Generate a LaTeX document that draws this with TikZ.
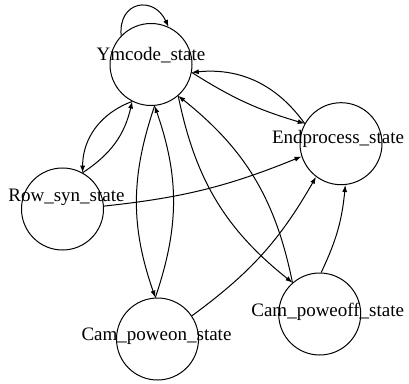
\documentclass[tikz,border=0pt]{standalone}
\usepackage{fontspec}
\setmainfont{Liberation Serif}
\usetikzlibrary{arrows.meta}

\begin{document}
\begin{tikzpicture}[x=1pt, y=1pt,
    every node/.style={font=\fontsize{19}{22}\selectfont},
    circ/.style={circle, draw, line width=1pt, minimum size=82pt, inner sep=0pt},
    arrow/.style={-{Latex[length=7pt,width=5pt]}, line width=1pt}]

  \useasboundingbox (0,0) rectangle (409,383);

  \node[circ, label={[yshift=9pt]center:Ymcode\_state}] (ym) at (151,318.5) {};
  \node[circ, label={[xshift=-3pt, yshift=5pt]center:Endprocess\_state}] (end) at (341,239.3) {};
  \node[circ, label={[xshift=4pt, yshift=12pt]center:Row\_syn\_state}] (row) at (62.5,174) {};
  \node[circ, label={[xshift=-1pt, yshift=3pt]center:Cam\_poweon\_state}] (on) at (157.5,44) {};
  \node[circ, label={[xshift=8pt, yshift=2pt]center:Cam\_poweoff\_state}] (off) at (319.7,69) {};

  \draw[arrow] (ym.136) .. controls +(95:35) and +(115:35) .. (ym.65);
  \draw[arrow] (ym.-11) to[bend right=8] (end.151);
  \draw[arrow] (end.151) to[bend right=30] (ym.-11);
  \draw[arrow] (ym.-49) to[bend right=20] (off.131);
  \draw[arrow] (off.131) to[bend right=20] (ym.-49);
  \draw[arrow] (ym.-85) to[bend right=19] (on.93);
  \draw[arrow] (on.93) to[bend right=19] (ym.-85);
  \draw[arrow] (ym.-117) to[bend right=35] (row.61);
  \draw[arrow] (row.61) to[bend right=22] (ym.-117);
  \draw[arrow] (row.4) to[bend right=8] (end.198);
  \draw[arrow] (on.34) to[bend right=12] (end.233);
  \draw[arrow] (off.88) to[bend right=10] (end.276);
\end{tikzpicture}
\end{document}
